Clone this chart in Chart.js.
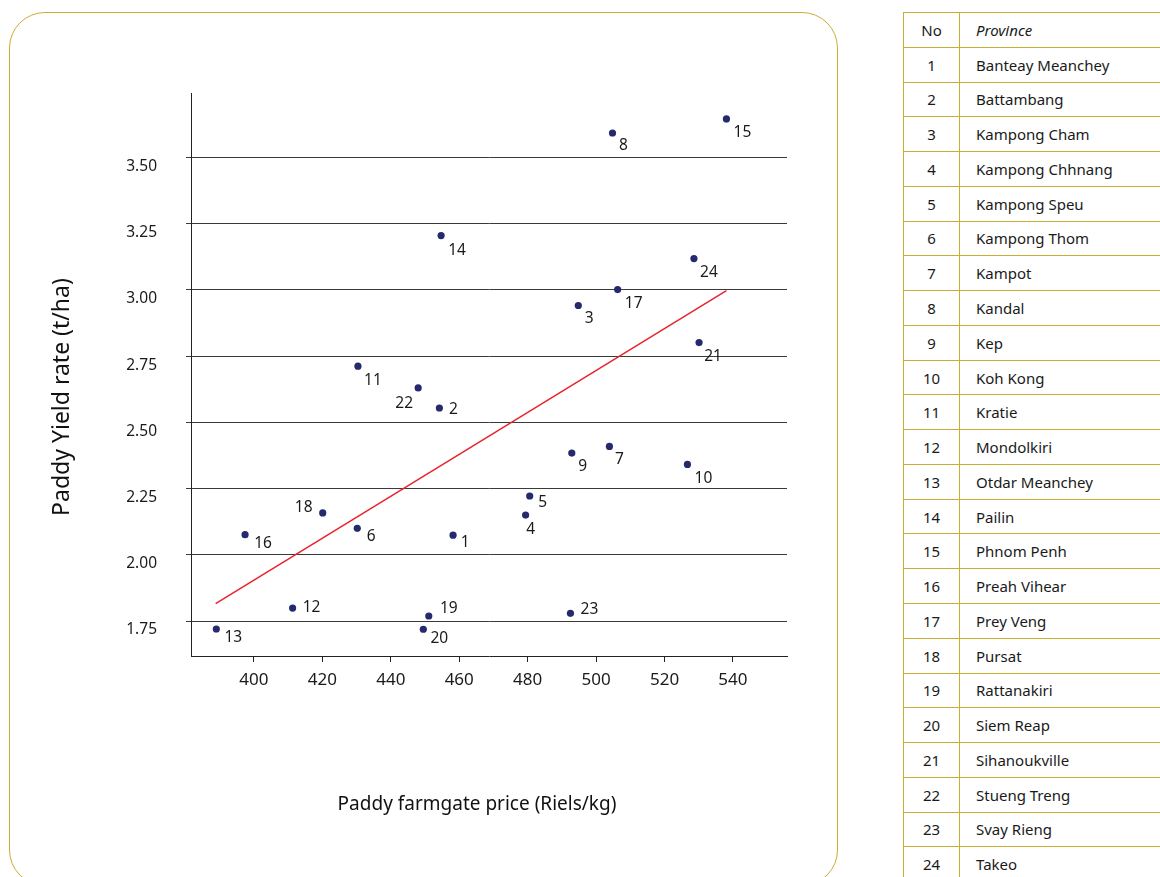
<!DOCTYPE html>
<html>
<head>
<meta charset="utf-8">
<title>Paddy yield vs farmgate price</title>
<script src="https://cdn.jsdelivr.net/npm/chart.js@4/dist/chart.umd.min.js"></script>
<style>
  html, body {
    margin: 0;
    padding: 0;
    width: 1160px;
    height: 877px;
    overflow: hidden;
    background: #fff;
    font-family: 'Noto Sans', sans-serif;
  }
  .frame {
    position: absolute;
    left: 9px;
    top: 12px;
    width: 827px;
    height: 872px;
    border: 1.5px solid #c9ad36;
    border-radius: 36px;
  }
  #chartCanvas {
    position: absolute;
    left: 0;
    top: 0;
  }
  .provinces {
    position: absolute;
    left: 903px;
    top: 12px;
    width: 320px;
    border-collapse: collapse;
    font-size: 15px;
    color: #1a1a1a;
  }
  .provinces td {
    border: 1.5px solid #c9ad36;
    height: 33.78px;
    padding: 0;
  }
  .provinces td.no {
    width: 55px;
    text-align: center;
  }
  .provinces td.name {
    padding-left: 16px;
  }
  .provinces .head td.name {
    font-style: italic;
  }
</style>
</head>
<body>
<div class="frame"></div>
<canvas id="chartCanvas" width="890" height="877"></canvas>
<table class="provinces" id="provinceTable"></table>

<script>
// Province numbers and names (table on the right)
const provinceNo = ['1', '2', '3', '4', '5', '6', '7', '8', '9', '10', '11', '12',
  '13', '14', '15', '16', '17', '18', '19', '20', '21', '22', '23', '24'];
const provinceNames = ['Banteay Meanchey', 'Battambang', 'Kampong Cham', 'Kampong Chhnang',
  'Kampong Speu', 'Kampong Thom', 'Kampot', 'Kandal', 'Kep', 'Koh Kong', 'Kratie',
  'Mondolkiri', 'Otdar Meanchey', 'Pailin', 'Phnom Penh', 'Preah Vihear', 'Prey Veng',
  'Pursat', 'Rattanakiri', 'Siem Reap', 'Sihanoukville', 'Stueng Treng', 'Svay Rieng', 'Takeo'];

// Paddy farmgate price (Riels/kg) and yield (t/ha)
const priceValues = [458.2, 454.2, 494.8, 479.4, 480.6, 430.2, 503.9, 504.8, 492.9, 526.7, 430.4, 411.3,
  389.0, 454.7, 538.1, 397.4, 506.3, 420.1, 451.1, 449.5, 530.1, 448.0, 492.5, 528.6];
const yieldValues = [2.074, 2.554, 2.941, 2.150, 2.222, 2.100, 2.409, 3.592, 2.384, 2.341, 2.712, 1.799,
  1.720, 3.205, 3.645, 2.076, 3.001, 2.158, 1.769, 1.719, 2.801, 2.630, 1.779, 3.118];

// Linear trend line end points
const trendX = [388.8, 538.1];
const trendY = [1.816, 2.997];

// Tick labels
const xTicks = [400, 420, 440, 460, 480, 500, 520, 540];
const yTicks = [1.75, 2.00, 2.25, 2.50, 2.75, 3.00, 3.25, 3.50];

// Where each number sits relative to its dot (px)
const labelDx = [12, 14, 11, 5, 13, 14, 10, 11, 11, 16, 15, 19, 17, 16, 16, 18, 16, -19, 20, 16, 14, -14, 19, 15];
const labelDy = [7, 2, 13, 15, 7, 8, 13, 13, 14, 14, 14, 0, 9, 15, 14, 9, 14, -5, -7, 9, 14, 16, -4, 14];

const FONT = "'Noto Sans', sans-serif";

function buildTable() {
  const table = document.getElementById('provinceTable');
  let html = '<tr class="head"><td class="no">No</td><td class="name">Province</td></tr>';
  provinceNames.forEach((name, i) => {
    html += `<tr><td class="no">${provinceNo[i]}</td><td class="name">${name}</td></tr>`;
  });
  table.innerHTML = html;
}

// Numbers next to the dots
const pointNumbers = {
  id: 'pointNumbers',
  afterDatasetsDraw(chart) {
    const ctx = chart.ctx;
    const meta = chart.getDatasetMeta(0);
    ctx.save();
    ctx.font = `15.5px ${FONT}`;
    ctx.fillStyle = '#1a1a1a';
    ctx.textAlign = 'center';
    ctx.textBaseline = 'middle';
    meta.data.forEach((pt, i) => {
      ctx.fillText(provinceNo[i], pt.x + labelDx[i], pt.y + labelDy[i]);
    });
    ctx.restore();
  }
};

// Axis titles (not centred on the axes in the original)
const axisTitles = {
  id: 'axisTitles',
  afterDraw(chart) {
    const ctx = chart.ctx;
    ctx.save();
    ctx.fillStyle = '#111';
    ctx.textAlign = 'center';
    ctx.textBaseline = 'middle';
    ctx.font = `19px ${FONT}`;
    ctx.fillText('Paddy farmgate price (Riels/kg)', 477, 805);
    ctx.translate(62, 397);
    ctx.rotate(-Math.PI / 2);
    ctx.font = `23px ${FONT}`;
    ctx.fillText('Paddy Yield rate (t/ha)', 0, 0);
    ctx.restore();
  }
};

function renderChart() {
  const ctx = document.getElementById('chartCanvas');

  new Chart(ctx, {
    type: 'scatter',
    data: {
      datasets: [{
        data: priceValues.map((x, i) => ({ x: x, y: yieldValues[i] })),
        backgroundColor: '#252a6d',
        borderColor: '#252a6d',
        pointRadius: 3.6,
        borderWidth: 0
      }, {
        type: 'line',
        data: trendX.map((x, i) => ({ x: x, y: trendY[i] })),
        borderColor: '#e8232b',
        borderWidth: 1.5,
        pointRadius: 0,
        fill: false
      }]
    },
    options: {
      responsive: false,
      animation: false,
      layout: {
        padding: { top: 93, right: 103, left: 0, bottom: 0 }
      },
      plugins: {
        legend: { display: false },
        tooltip: { enabled: false }
      },
      scales: {
        x: {
          type: 'linear',
          min: 381.6,
          max: 555.8,
          afterFit: (scale) => { scale.height = 221; },
          afterBuildTicks: (scale) => { scale.ticks = xTicks.map(v => ({ value: v })); },
          grid: {
            drawOnChartArea: false,
            drawTicks: true,
            tickLength: 6,
            color: '#222'
          },
          border: { display: true, color: '#222', width: 1 },
          ticks: {
            padding: 8,
            color: '#1a1a1a',
            font: { family: FONT, size: 17 },
            callback: (v) => String(v)
          }
        },
        y: {
          min: 1.618,
          max: 3.743,
          afterFit: (scale) => { scale.width = 191; },
          afterBuildTicks: (scale) => { scale.ticks = yTicks.map(v => ({ value: v })); },
          grid: {
            drawTicks: true,
            tickLength: 5,
            color: '#3a3a3a',
            lineWidth: 1
          },
          border: { display: true, color: '#222', width: 1 },
          ticks: {
            padding: 29,
            labelOffset: 9,
            color: '#1a1a1a',
            font: { family: FONT, size: 15.5 },
            callback: (v) => Number(v).toFixed(2)
          }
        }
      }
    },
    plugins: [pointNumbers, axisTitles]
  });
}

document.addEventListener('DOMContentLoaded', () => {
  buildTable();
  renderChart();
});
</script>
</body>
</html>
